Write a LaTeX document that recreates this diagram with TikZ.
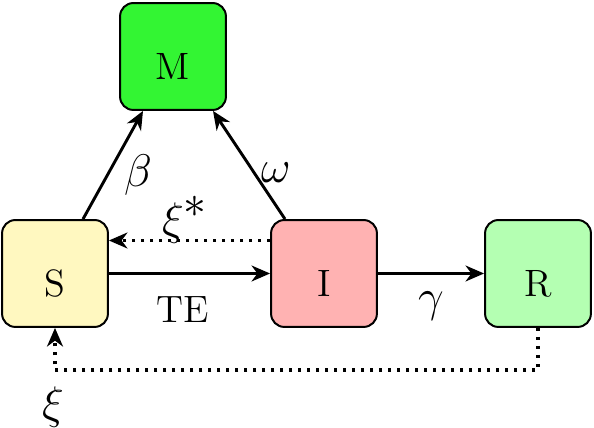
\documentclass[tikz,border=0pt]{standalone}
\usepackage{amsmath}
\usepackage{tikz}
\usetikzlibrary{calc,arrows.meta}

\definecolor{mcol}{RGB}{51,245,51}
\definecolor{scol}{RGB}{255,248,192}
\definecolor{icol}{RGB}{255,178,178}
\definecolor{rcol}{RGB}{180,255,178}

\begin{document}
\begin{tikzpicture}[->,>={Stealth[length=7pt,width=6pt,inset=2.2pt]},x=0.378pt,y=-0.378pt,
    every node/.style={font=\Large},
    comp/.style={rectangle,draw=black,line width=0.75pt,rounded corners=5pt,
      minimum width=40pt,minimum height=40.4pt,text height=17.4pt,text depth=0pt},
    flow/.style={line width=1.1pt},
    back/.style={line width=1.2pt,dash pattern=on 1.2pt off 2.2pt}]
    \useasboundingbox (0,0) rectangle (594,428);
        % compartments
        \node[comp,style={fill=mcol}] (M) at (173,56.5) {M};
        \node[comp,style={fill=scol}] (S) at (55,273.5) {S};
        \node[comp,style={fill=icol}] (I) at (324,273.5) {I};
        \node[comp,style={fill=rcol}] (R) at (538,273.5) {R};
        \coordinate (RS1) at (R.south |- 0,370);
        \coordinate (RS2) at (S.south |- 0,370);

        % flows
        \draw[flow] ($(S.north)+(28,0)$) -- ($(M.south)+(-30,0)$);
        \draw[flow] ($(I.north)+(-39,0)$) -- ($(M.south)+(40,0)$);
        \draw[flow] (S) -- (I);
        \draw[flow] (I) -- (R);
        \draw[back] ($(I.west)+(0,-33)$) -- ($(S.east)+(0,-33)$);
        \draw[back] (R.south) -- (RS1) -- (RS2) -- (S.south);

        % rates
        \node at (138,175) {\LARGE$\beta$};
        \node at (276,173) {\LARGE$\omega$};
        \node at (185,220) {\LARGE$\xi^{\textstyle *}$};
        \node at (183,310) {TE};
        \node at (431,306) {\LARGE$\gamma$};
        \node at (53,407) {\LARGE$\xi$};
  \end{tikzpicture}
\end{document}
